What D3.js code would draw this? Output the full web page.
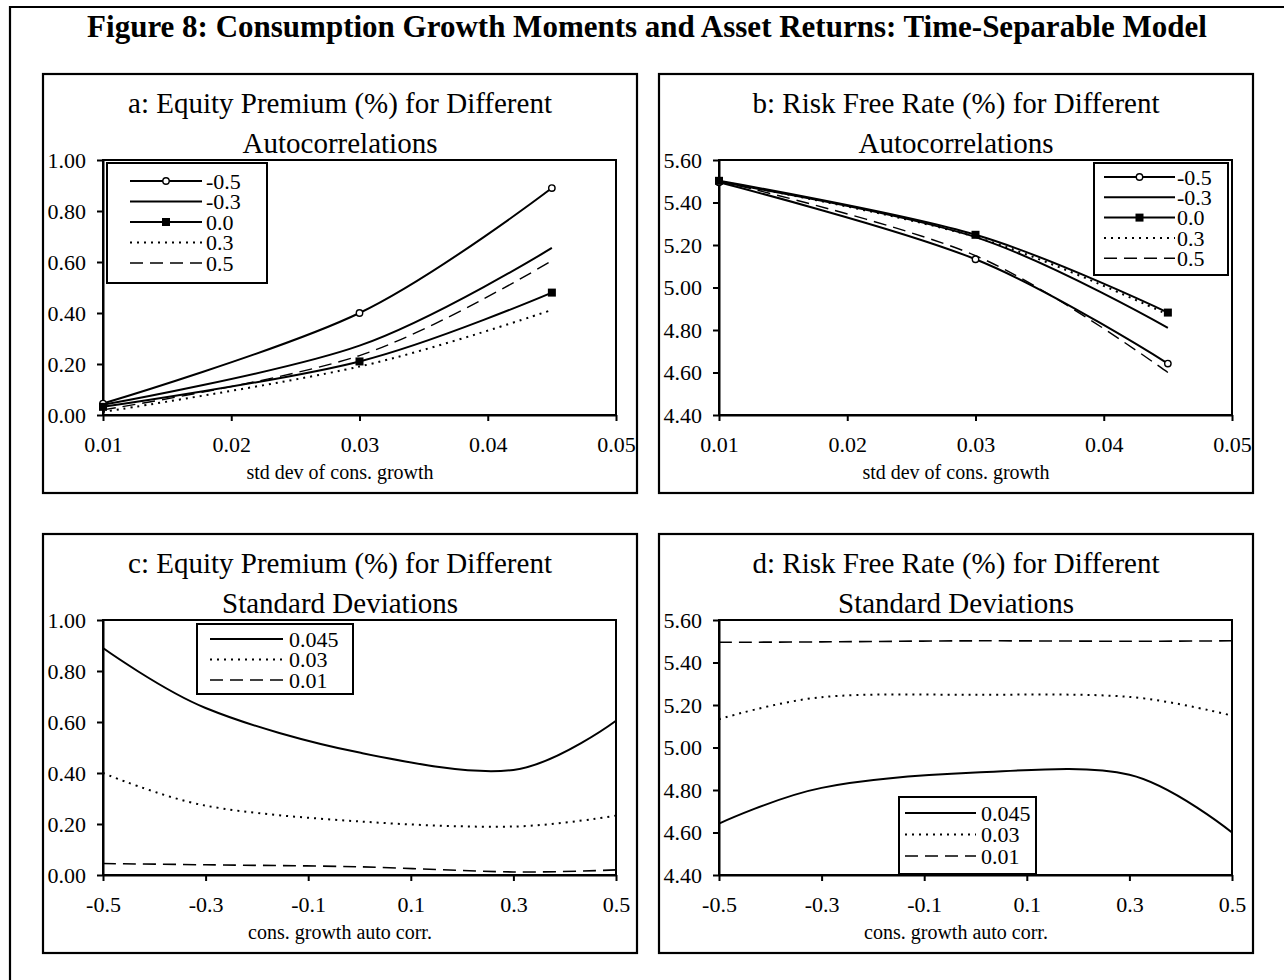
<!DOCTYPE html>
<html>
<head>
<meta charset="utf-8">
<script src="https://cdn.jsdelivr.net/npm/d3@7"></script>
<style>
  html, body { margin: 0; padding: 0; background: #fff; }
  svg { display: block; font-family: "Liberation Serif", "Times New Roman", serif; }
</style>
</head>
<body>
<svg id="fig" width="1284" height="980"></svg>
<script>
// ---- data ----------------------------------------------------------------
const stdDevs   = [0.01, 0.03, 0.045];
const autoCorrs = [-0.5, -0.3, 0.0, 0.3, 0.5];

// Equity premium (%) by std dev of consumption growth, one array per autocorrelation
const epRhoM05 = [0.045, 0.400, 0.890];
const epRhoM03 = [0.040, 0.272, 0.655];
const epRho00  = [0.032, 0.210, 0.480];
const epRho03  = [0.012, 0.190, 0.412];
const epRho05  = [0.020, 0.233, 0.605];

// Risk free rate (%) by std dev of consumption growth, one array per autocorrelation
const rfRhoM05 = [5.495, 5.133, 4.642];
const rfRhoM03 = [5.497, 5.237, 4.810];
const rfRho00  = [5.502, 5.248, 4.882];
const rfRho03  = [5.500, 5.238, 4.872];
const rfRho05  = [5.502, 5.150, 4.600];

const rhoLabels = ["-0.5", "-0.3", "0.0", "0.3", "0.5"];
const sdLabels  = ["0.01", "0.03", "0.045"];

const yTicksEP = [0.0, 0.2, 0.4, 0.6, 0.8, 1.0];
const yTicksRF = [4.4, 4.6, 4.8, 5.0, 5.2, 5.4, 5.6];
const xTicksSD = [0.01, 0.02, 0.03, 0.04, 0.05];
const xTicksAC = [-0.5, -0.3, -0.1, 0.1, 0.3, 0.5];

// ---- styles ----------------------------------------------------------------
const rhoStyles = [
  { dash: null,    width: 2,   marker: "circle" },
  { dash: null,    width: 2,   marker: null },
  { dash: null,    width: 2,   marker: "square" },
  { dash: "2,5",   width: 2,   marker: null },
  { dash: "13,7",  width: 1.4, marker: null }
];
// series of panels c/d are ordered 0.045, 0.03, 0.01
const sdStyles = [
  { dash: null,   width: 2,   marker: null },
  { dash: "2,5",  width: 2,   marker: null },
  { dash: "13,7", width: 1.6, marker: null }
];

const epByRho = [epRhoM05, epRhoM03, epRho00, epRho03, epRho05];
const rfByRho = [rfRhoM05, rfRhoM03, rfRho00, rfRho03, rfRho05];

// series across std devs (panels a, b)
const seriesA = epByRho.map((vals, i) => ({ label: rhoLabels[i], style: rhoStyles[i], pts: stdDevs.map((s, j) => [s, vals[j]]) }));
const seriesB = rfByRho.map((vals, i) => ({ label: rhoLabels[i], style: rhoStyles[i], pts: stdDevs.map((s, j) => [s, vals[j]]) }));
// series across autocorrelations (panels c, d), largest std dev first
const sdOrder = [2, 1, 0];
const seriesC = sdOrder.map((j, k) => ({ label: sdLabels[j], style: sdStyles[k], pts: autoCorrs.map((r, i) => [r, epByRho[i][j]]) }));
const seriesD = sdOrder.map((j, k) => ({ label: sdLabels[j], style: sdStyles[k], pts: autoCorrs.map((r, i) => [r, rfByRho[i][j]]) }));

// number formatting with a plain hyphen for negatives
const locale = d3.formatLocale({ decimal: ".", thousands: ",", grouping: [3], currency: ["", ""], minus: "-" });

// ---- layout ------------------------------------------------------------------
const svg = d3.select("#fig");
const BOX_W = 594, BOX_H = 419;
const PLOT = { left: 60, top: 86, w: 513, h: 255 };

// outer frame
svg.append("path")
  .attr("d", "M10,990 L10,7 L1295,7")
  .attr("fill", "none").attr("stroke", "#000").attr("stroke-width", 2.2);

svg.append("text")
  .attr("x", 647).attr("y", 37)
  .attr("text-anchor", "middle")
  .attr("font-size", 31).attr("font-weight", "bold")
  .text("Figure 8: Consumption Growth Moments and Asset Returns: Time-Separable Model");

const panels = [
  { bx: 43,  by: 74,  t1: "a: Equity Premium (%) for Different", t2: "Autocorrelations",
    xDom: [0.01, 0.05], yDom: [0, 1], xTicks: xTicksSD, yTicks: yTicksEP, xFmt: ".2f",
    xLabel: "std dev of cons. growth", series: seriesA,
    legend: { x: 4, y: 3, w: 160, h: 120, lx0: 23, lx1: 95, tx: 99, row0: 18, dy: 20.5 } },
  { bx: 659, by: 74,  t1: "b: Risk Free Rate (%) for Different", t2: "Autocorrelations",
    xDom: [0.01, 0.05], yDom: [4.4, 5.6], xTicks: xTicksSD, yTicks: yTicksRF, xFmt: ".2f",
    xLabel: "std dev of cons. growth", series: seriesB,
    legend: { x: 375, y: 3, w: 134, h: 112, lx0: 10, lx1: 81, tx: 83, row0: 14, dy: 20.3 } },
  { bx: 43,  by: 534, t1: "c: Equity Premium (%) for Different", t2: "Standard Deviations",
    xDom: [-0.5, 0.5], yDom: [0, 1], xTicks: xTicksAC, yTicks: yTicksEP, xFmt: ".1f",
    xLabel: "cons. growth auto corr.", series: seriesC,
    legend: { x: 94, y: 4, w: 156, h: 70, lx0: 13, lx1: 86, tx: 92, row0: 15, dy: 20.5 } },
  { bx: 659, by: 534, t1: "d: Risk Free Rate (%) for Different", t2: "Standard Deviations",
    xDom: [-0.5, 0.5], yDom: [4.4, 5.6], xTicks: xTicksAC, yTicks: yTicksRF, xFmt: ".1f",
    xLabel: "cons. growth auto corr.", series: seriesD,
    legend: { x: 180, y: 177, w: 137, h: 77, lx0: 6, lx1: 77, tx: 82, row0: 16, dy: 21.5 } }
];

function drawMarker(g, type, x, y) {
  if (type === "circle") {
    g.append("circle").attr("cx", x).attr("cy", y).attr("r", 3.2)
      .attr("fill", "#fff").attr("stroke", "#000").attr("stroke-width", 1.4);
  } else if (type === "square") {
    g.append("rect").attr("x", x - 4).attr("y", y - 4).attr("width", 8).attr("height", 8)
      .attr("fill", "#000");
  }
}

function styleLine(sel, st) {
  sel.attr("fill", "none").attr("stroke", "#000")
    .attr("stroke-width", st.width)
    .attr("stroke-dasharray", st.dash);
}

panels.forEach(p => {
  const box = svg.append("g").attr("transform", `translate(${p.bx},${p.by})`);
  box.append("rect").attr("width", BOX_W).attr("height", BOX_H)
    .attr("fill", "#fff").attr("stroke", "#000").attr("stroke-width", 2.2);

  box.append("text").attr("x", BOX_W / 2).attr("y", 39)
    .attr("text-anchor", "middle").attr("font-size", 29).text(p.t1);
  box.append("text").attr("x", BOX_W / 2).attr("y", 79)
    .attr("text-anchor", "middle").attr("font-size", 29).text(p.t2);

  const g = box.append("g").attr("transform", `translate(${PLOT.left},${PLOT.top})`);
  const x = d3.scaleLinear().domain(p.xDom).range([0, PLOT.w]);
  const y = d3.scaleLinear().domain(p.yDom).range([PLOT.h, 0]);

  // plot area frame
  g.append("rect").attr("width", PLOT.w).attr("height", PLOT.h)
    .attr("fill", "none").attr("stroke", "#000").attr("stroke-width", 2);

  const yAxis = g.append("g")
    .call(d3.axisLeft(y).tickValues(p.yTicks).tickFormat(locale.format(".2f")).tickSize(6).tickSizeOuter(0).tickPadding(11));
  const xAxis = g.append("g").attr("transform", `translate(0,${PLOT.h})`)
    .call(d3.axisBottom(x).tickValues(p.xTicks).tickFormat(locale.format(p.xFmt)).tickSize(6).tickSizeOuter(0).tickPadding(15));
  [yAxis, xAxis].forEach(a => {
    a.selectAll("path").attr("stroke", "#000").attr("stroke-width", 2);
    a.selectAll("line").attr("stroke", "#000").attr("stroke-width", 2);
    a.selectAll("text").attr("font-size", 22).attr("fill", "#000")
      .attr("font-family", "Liberation Serif, Times New Roman, serif");
  });
  xAxis.selectAll("text").attr("dy", "0.71em");

  box.append("text").attr("x", BOX_W / 2).attr("y", PLOT.top + PLOT.h + 64)
    .attr("text-anchor", "middle").attr("font-size", 20).text(p.xLabel);

  // series
  const line = d3.line().x(d => x(d[0])).y(d => y(d[1])).curve(d3.curveCardinal.tension(0));
  p.series.slice().reverse().forEach(s => {
    g.append("path").datum(s.pts).attr("d", line).call(styleLine, s.style);
  });
  p.series.forEach(s => {
    if (s.style.marker) s.pts.forEach(d => drawMarker(g, s.style.marker, x(d[0]), y(d[1])));
  });

  // legend
  const L = p.legend;
  const lg = g.append("g").attr("transform", `translate(${L.x},${L.y})`);
  lg.append("rect").attr("width", L.w).attr("height", L.h)
    .attr("fill", "#fff").attr("stroke", "#000").attr("stroke-width", 2);
  p.series.forEach((s, i) => {
    const ry = L.row0 + i * L.dy;
    lg.append("line").attr("x1", L.lx0).attr("x2", L.lx1).attr("y1", ry).attr("y2", ry)
      .call(styleLine, s.style);
    if (s.style.marker) drawMarker(lg, s.style.marker, (L.lx0 + L.lx1) / 2, ry);
    lg.append("text").attr("x", L.tx).attr("y", ry).attr("dy", "0.35em")
      .attr("font-size", 22).text(s.label);
  });
});
</script>
</body>
</html>
